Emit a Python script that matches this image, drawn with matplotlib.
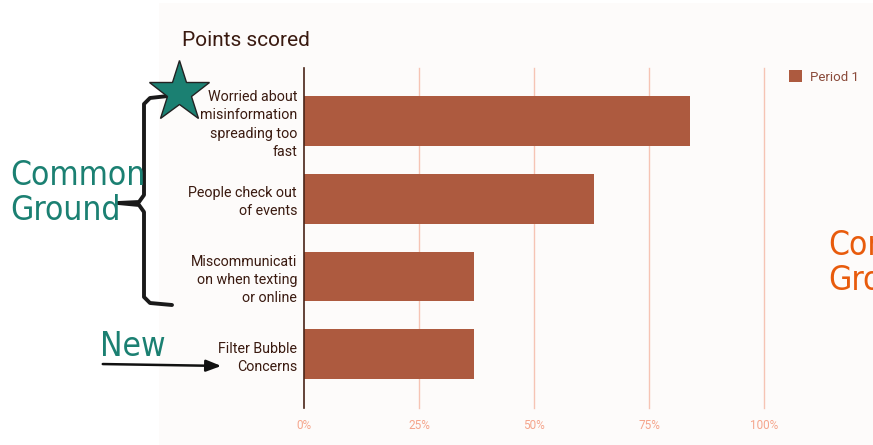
import matplotlib.pyplot as plt
from matplotlib.patches import Rectangle

# dados
categorias = ["Worried about\nmisinformation\nspreading too\nfast",
              "People check out\nof events",
              "Miscommunicati\non when texting\nor online",
              "Filter Bubble\nConcerns"]
valores = [0.84, 0.63, 0.37, 0.37]
ticks = [0, 0.25, 0.5, 0.75, 1.0]
tick_labels = ["0%", "25%", "50%", "75%", "100%"]

cor_barra = "#ad5a3f"
cor_grade = "#f6c4b4"
cor_texto = "#3a1a10"
cor_teal = "#1b8072"
cor_laranja = "#e85b0c"

W, H = 873, 445
fig = plt.figure(figsize=(8.73, 4.45), dpi=100)
fig.patch.set_facecolor("white")

# painel de fundo do grafico
fig.patches.append(Rectangle((159 / W, 0), 1 - 159 / W, 1 - 3 / H,
                             transform=fig.transFigure, facecolor="#fdfbfa",
                             edgecolor="none", zorder=-5))

ax = fig.add_axes([304 / W, 1 - 408 / H, (764 - 304) / W, (408 - 68) / H])
ax.set_facecolor("none")
y = list(range(len(categorias)))
ax.barh(y, valores, height=0.64, color=cor_barra, zorder=3, label="Period 1")
ax.set_ylim(3.69, -0.68)
ax.set_xlim(0, 1)

ax.set_xticks(ticks)
ax.set_xticklabels(tick_labels, color="#f5a58c", fontsize=8.5, family="Roboto")
ax.set_yticks(y)
ax.set_yticklabels(categorias, color=cor_texto, fontsize=10.3, linespacing=1.38,
                   family="Roboto")
ax.tick_params(axis="both", length=0)
ax.tick_params(axis="x", pad=8)
ax.tick_params(axis="y", pad=5)
for t in ticks[1:]:
    ax.axvline(t, color=cor_grade, lw=1, zorder=1, clip_on=False)
for s in ["top", "right", "bottom"]:
    ax.spines[s].set_visible(False)
ax.spines["left"].set_color("#4a2418")
ax.spines["left"].set_linewidth(1.2)
ax.spines["left"].set_zorder(4)

fig.text(182 / W, 1 - 40 / H, "Points scored", fontsize=15, color=cor_texto,
         va="center", ha="left", family="Roboto")

leg = fig.legend(loc="upper left", bbox_to_anchor=(784 / W, 1 - 65 / H),
                 frameon=False, prop={"family": "Roboto", "size": 9.5},
                 handlelength=1.0, handleheight=1.0,
                 handletextpad=0.55, borderaxespad=0)
for t in leg.get_texts():
    t.set_color("#8a4a3a")

# anotacoes
estilo = dict(fontsize=24, fontstretch="condensed", va="center", ha="left")
fig.text(10 / W, 1 - 193 / H, "Common\nGround", color=cor_teal,
         linespacing=1.1, **estilo)
fig.text(828 / W, 1 - 263 / H, "Common\nGround", color=cor_laranja,
         linespacing=1.1, **estilo)
fig.text(100 / W, 1 - 346 / H, "New", color=cor_teal, **estilo)

# chave
xs = [168, 150, 144, 144, 139, 118, 139, 144, 144, 150, 172]
ys = [96, 98, 104, 195, 202, 203, 205, 212, 297, 303, 305]
fig.add_artist(plt.Line2D([v / W for v in xs], [1 - v / H for v in ys],
                          color="#1a1a1a", lw=2.8, solid_capstyle="round",
                          solid_joinstyle="round", transform=fig.transFigure))

ax.annotate("", xy=(224 / W, 1 - 366 / H), xytext=(100 / W, 1 - 364 / H),
            xycoords="figure fraction", textcoords="figure fraction",
            arrowprops=dict(arrowstyle="-|>,head_length=0.9,head_width=0.35",
                            color="#111111", lw=1.8))

fig.add_artist(plt.Line2D([179 / W], [1 - 92 / H], marker="*", markersize=46,
                          color=cor_teal, markeredgecolor="#222222",
                          markeredgewidth=1, transform=fig.transFigure))

fig.savefig("out.png", dpi=100)
